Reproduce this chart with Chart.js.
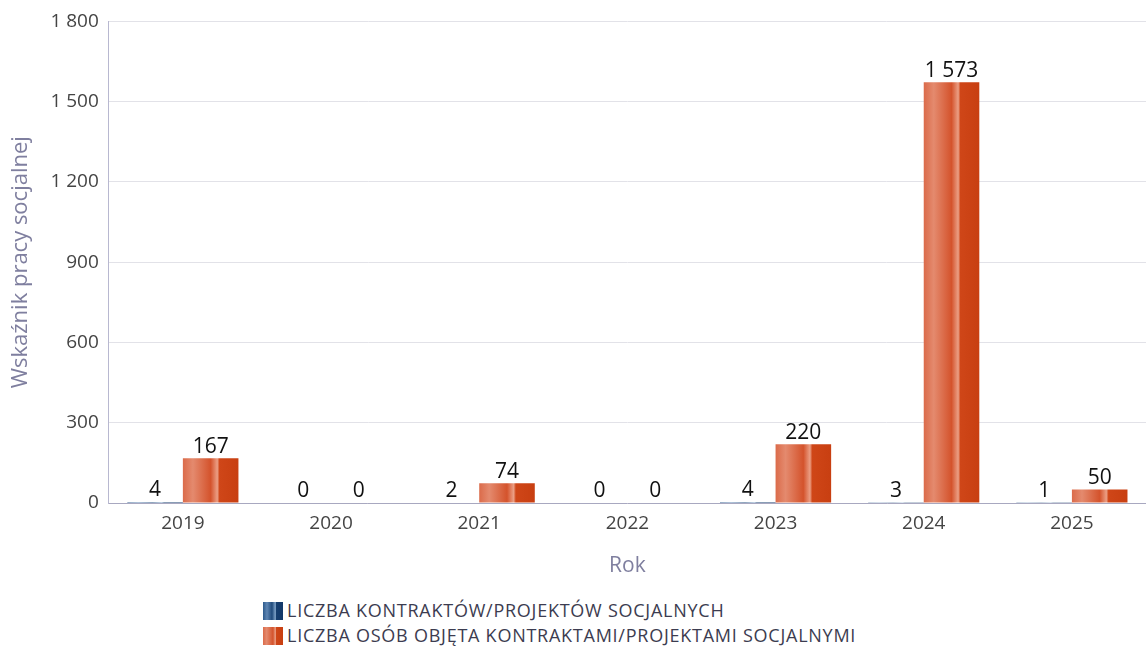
<!DOCTYPE html>
<html>
<head>
<meta charset="utf-8">
<script src="https://cdn.jsdelivr.net/npm/chart.js@4.4.1/dist/chart.umd.min.js"></script>
<style>
  body { margin: 0; background: #fff; font-family: "Open Sans", sans-serif; }
  #wrap { position: relative; width: 1146px; height: 590px; }
  #legenda { position: absolute; left: 263px; top: 598px; font-size: 18px; letter-spacing: 0.75px; color: #3c3c50; line-height: 25px; }
  .item { display: flex; align-items: center; }
  .box { width: 20px; height: 18px; margin-right: 4px; }
</style>
</head>
<body>
<div id="wrap"><canvas id="wykres"></canvas></div>
<div id="legenda"></div>
<script>
// Dane
const lata = ['2019', '2020', '2021', '2022', '2023', '2024', '2025'];
const kontrakty = [4, 0, 2, 0, 4, 3, 1];
const osoby = [167, 0, 74, 0, 220, 1573, 50];
const etykietySerii = ['LICZBA KONTRAKTÓW/PROJEKTÓW SOCJALNYCH', 'LICZBA OSÓB OBJĘTA KONTRAKTAMI/PROJEKTAMI SOCJALNYMI'];
const tickiY = [0, 300, 600, 900, 1200, 1500, 1800];

const catPct = 0.75;

// Kolory gradientów (od lewej do prawej)
const stopy = {
    niebieski: [[0, '#2d5a8c'], [0.2, '#5f86b3'], [0.45, '#1f4a7c'], [0.62, '#7ea2c8'], [0.66, '#163f70'], [1, '#12386a']],
    pomaranczowy: [[0, '#db6b4a'], [0.18, '#e48a6e'], [0.5, '#d4532c'], [0.62, '#eb9f85'], [0.66, '#cf4618'], [1, '#c83f11']]
};

function formatuj(v) {
    return String(v).replace(/\B(?=(\d{3})+(?!\d))/g, ' ');
}

function gradient(ctx, nr, stopyKoloru) {
    const chart = ctx.chart;
    const x = chart.scales.x;
    if (!x || !chart.chartArea) return stopyKoloru[3][1];
    const szer = (x.width / lata.length) * catPct / 2;
    const srodek = x.getPixelForValue(ctx.dataIndex);
    const lewo = nr === 0 ? srodek - szer : srodek;
    const g = chart.ctx.createLinearGradient(lewo, 0, lewo + szer, 0);
    stopyKoloru.forEach(s => g.addColorStop(s[0], s[1]));
    return g;
}

// Etykiety wartości nad słupkami
const etykietyWartosci = {
    id: 'etykietyWartosci',
    afterDatasetsDraw(chart) {
        const c = chart.ctx;
        c.save();
        c.font = '21px "Open Sans", sans-serif';
        c.fillStyle = '#111';
        c.textAlign = 'center';
        c.textBaseline = 'bottom';
        chart.data.datasets.forEach((ds, i) => {
            chart.getDatasetMeta(i).data.forEach((el, j) => {
                c.fillText(formatuj(ds.data[j]), el.x, el.y - 1);
            });
        });
        c.restore();
    }
};

const ctx = document.getElementById('wykres').getContext('2d');
const chart = new Chart(ctx, {
    type: 'bar',
    data: {
        labels: lata,
        datasets: [
            {
                label: etykietySerii[0],
                data: kontrakty,
                backgroundColor: c => gradient(c, 0, stopy.niebieski)
            },
            {
                label: etykietySerii[1],
                data: osoby,
                backgroundColor: c => gradient(c, 1, stopy.pomaranczowy)
            }
        ]
    },
    options: {
        responsive: true,
        maintainAspectRatio: false,
        animation: false,
        layout: { padding: { top: 10, right: 0, left: 4, bottom: 7 } },
        datasets: { bar: { categoryPercentage: catPct, barPercentage: 1 } },
        plugins: {
            legend: { display: false },
            tooltip: { enabled: false }
        },
        scales: {
            x: {
                grid: { display: false, drawTicks: false },
                border: { color: '#a8a8c0', width: 1 },
                ticks: { color: '#444', font: { family: 'Open Sans', size: 19 }, padding: 9 },
                title: { display: true, text: 'Rok', color: '#7f7f9f', font: { family: 'Open Sans', size: 21 }, padding: { top: 10 } }
            },
            y: {
                min: 0,
                max: 1800,
                afterBuildTicks: axis => { axis.ticks = tickiY.map(v => ({ value: v })); },
                grid: { color: '#e2e2e8', drawTicks: false },
                border: { color: '#b8b8d0', width: 1 },
                ticks: { color: '#444', font: { family: 'Open Sans', size: 19 }, padding: 10, callback: v => formatuj(v) },
                title: { display: true, text: 'Wskaźnik pracy socjalnej', color: '#7f7f9f', font: { family: 'Open Sans', size: 22 }, padding: { bottom: 6 } }
            }
        }
    },
    plugins: [etykietyWartosci]
});

// Legenda HTML
const legenda = document.getElementById('legenda');
[stopy.niebieski, stopy.pomaranczowy].forEach((s, i) => {
    const item = document.createElement('div');
    item.className = 'item';
    const box = document.createElement('span');
    box.className = 'box';
    box.style.background = 'linear-gradient(to right, ' + s.map(p => p[1] + ' ' + (p[0] * 100) + '%').join(', ') + ')';
    const txt = document.createElement('span');
    txt.textContent = etykietySerii[i];
    item.appendChild(box);
    item.appendChild(txt);
    legenda.appendChild(item);
});
</script>
</body>
</html>
